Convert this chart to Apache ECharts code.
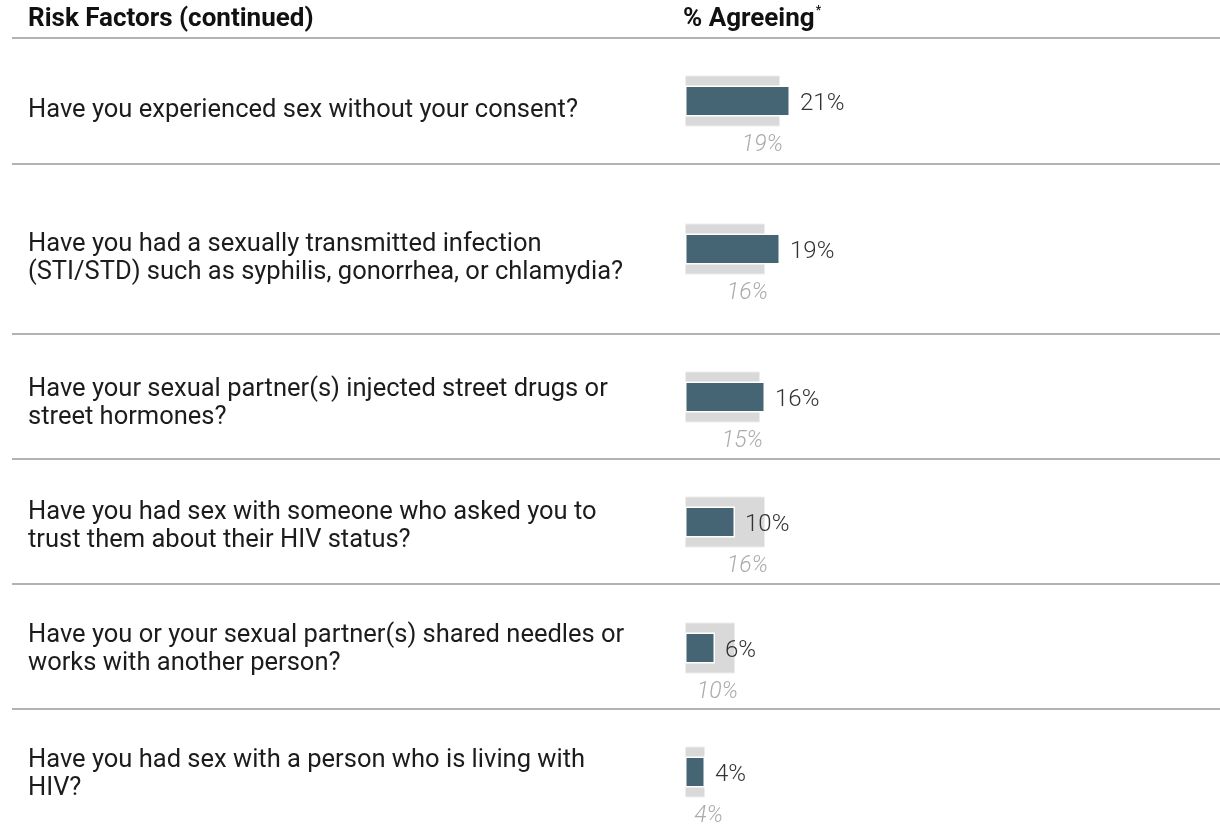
<!DOCTYPE html>
<html>
<head>
<meta charset="utf-8">
<script src="https://cdn.jsdelivr.net/npm/echarts@6/dist/echarts.min.js"></script>
<style>
  html, body { margin: 0; padding: 0; background: #fff; }
  #chart { width: 1220px; height: 831px; }
</style>
</head>
<body>
<div id="chart"></div>
<script>
// Survey questions (left column)
const questions = [
  'Have you experienced sex without your consent?',
  'Have you had a sexually transmitted infection\n(STI/STD) such as syphilis, gonorrhea, or chlamydia?',
  'Have your sexual partner(s) injected street drugs or\nstreet hormones?',
  'Have you had sex with someone who asked you to\ntrust them about their HIV status?',
  'Have you or your sexual partner(s) shared needles or\nworks with another person?',
  'Have you had sex with a person who is living with\nHIV?'
];
// % agreeing (dark bars)
const agreeing = [21, 19, 16, 10, 6, 4];
// comparison group % (light grey bars, italic labels)
const comparison = [19, 16, 15, 16, 10, 4];

// Row layout
const rowCenters = [101, 249, 397, 522, 648, 772];
const textFirstLine = [111, 245, 390, 513, 636, 761];
const separators = [164, 334, 459, 584, 709];
const plotLeft = 685, plotWidth = 500, axisMax = 100;
const pxPerUnit = plotWidth / axisMax;
const FONT = 'Roboto, "Noto Sans", sans-serif';

const grids = [], xAxes = [], yAxes = [], series = [];
questions.forEach((q, i) => {
  grids.push({ left: plotLeft, width: plotWidth, top: rowCenters[i] - 30, height: 60 });
  xAxes.push({ gridIndex: i, type: 'value', min: 0, max: axisMax, show: false });
  yAxes.push({ gridIndex: i, type: 'category', data: [q], show: false });
  yAxes.push({ gridIndex: i, type: 'category', data: [q], show: false });

  // comparison bar with italic label below its end
  const cw = comparison[i] * pxPerUnit;
  const labelRight = Math.max(cw + 3, 38);
  series.push({
    type: 'bar', xAxisIndex: i, yAxisIndex: 2 * i, barWidth: 51, silent: true,
    itemStyle: { color: '#d9d9d9', borderColor: '#ededed', borderWidth: 1 },
    data: [{
      value: comparison[i],
      label: {
        show: true, formatter: '{c}%', position: [cw, 51], offset: [labelRight - cw, 19],
        align: 'right', verticalAlign: 'middle',
        fontFamily: FONT, fontSize: 23, fontStyle: 'italic', fontWeight: 300, color: '#ababab'
      }
    }]
  });
  series.push({
    type: 'bar', xAxisIndex: i, yAxisIndex: 2 * i + 1, barWidth: 31, silent: true,
    itemStyle: { color: '#466574', borderColor: '#ffffff', borderWidth: 1.5 },
    label: {
      show: true, position: 'right', distance: 10, offset: [0, 3], formatter: '{c}%',
      fontFamily: FONT, fontSize: 24, fontWeight: 300, color: '#333333'
    },
    data: [agreeing[i]]
  });
});

const lineStyle = { stroke: '#9a9a9a', lineWidth: 1.5 };
const graphic = [
  { type: 'text', x: 28, y: 19, style: { text: 'Risk Factors (continued)', font: 'bold 26px ' + FONT, fill: '#111', verticalAlign: 'middle' } },
  { type: 'text', x: 683, y: 19, style: {
      text: '{m|% Agreeing}{s|*}', verticalAlign: 'middle',
      rich: { m: { font: 'bold 26px ' + FONT, fill: '#111' },
              s: { font: 'bold 12px ' + FONT, fill: '#111', padding: [0, 0, 16, 1] } }
  } },
  { type: 'line', shape: { x1: 12, y1: 38, x2: 1220, y2: 38 }, style: lineStyle }
];
separators.forEach(y => graphic.push({ type: 'line', shape: { x1: 12, y1: y, x2: 1220, y2: y }, style: lineStyle }));
// question text, one block per row
questions.forEach((q, i) => graphic.push({
  type: 'text', x: 28, y: textFirstLine[i] - 14,
  style: { text: q, font: '25.5px ' + FONT, fill: '#1c1c1c', lineHeight: 28, verticalAlign: 'top' }
}));

const chart = echarts.init(document.getElementById('chart'), null, { renderer: 'canvas' });
chart.setOption({
  animation: false,
  grid: grids, xAxis: xAxes, yAxis: yAxes, series: series, graphic: graphic
});
</script>
</body>
</html>
